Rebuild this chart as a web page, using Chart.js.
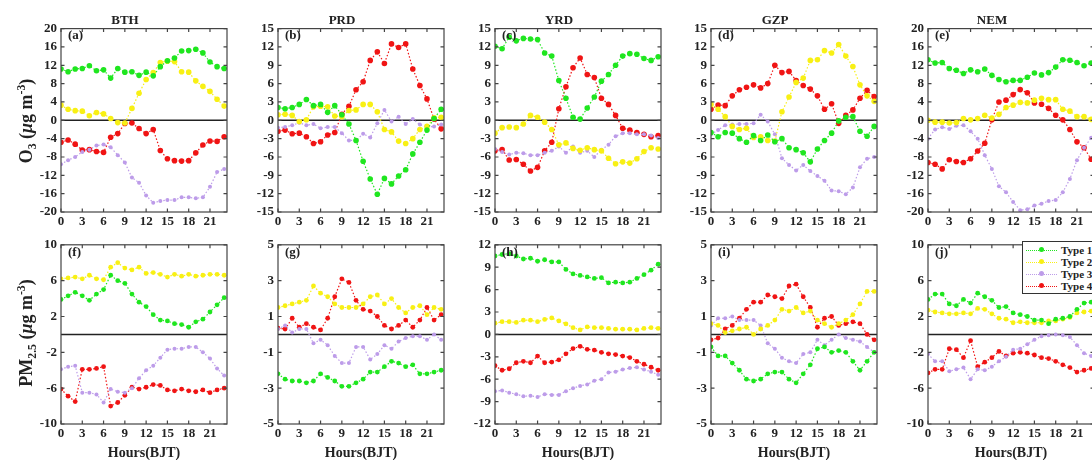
<!DOCTYPE html>
<html>
<head>
<meta charset="utf-8">
<script src="https://cdn.jsdelivr.net/npm/chart.js@4/dist/chart.umd.min.js"></script>
<style>
  html, body { margin: 0; padding: 0; background: #fff; }
  body {
    width: 1092px; height: 460px; overflow: hidden; position: relative;
    font-family: "Liberation Serif", "Times New Roman", serif; font-weight: bold; color: #222;
  }
  canvas { position: absolute; }
  .ylab {
    position: absolute; white-space: nowrap; font-size: 18px;
    transform: translate(-50%, -50%) rotate(-90deg);
  }
  .ylab sub, .ylab sup { font-size: 0.65em; }
  .tag { position: absolute; font-size: 13px; line-height: 15px; z-index: 2; }
  #legend {
    position: absolute; left: 1022px; top: 241px; width: 90px; height: 53px;
    border: 1px solid #333; background: #fff; z-index: 3; padding-top: 2px; box-sizing: border-box;
    font-size: 11px;
  }
  #legend .row { display: flex; align-items: center; height: 12px; }
  #legend .smp { position: relative; width: 31px; margin-left: 3px; border-top: 1.5px dotted; height: 0; }
  #legend .smp i { position: absolute; left: 13px; top: -3.5px; width: 5px; height: 5px; border-radius: 50%; }
  #legend .txt { margin-left: 4px; }
</style>
</head>
<body>
<script>
// ---- data ----
const hours = [0,1,2,3,4,5,6,7,8,9,10,11,12,13,14,15,16,17,18,19,20,21,22,23];
const hourTicks = [0,3,6,9,12,15,18,21];
const typeLabels = ['Type 1','Type 2','Type 3','Type 4'];
const regions = ['BTH','PRD','YRD','GZP','NEM'];
const o3Tags = ['(a)','(b)','(c)','(d)','(e)'];
const pmTags = ['(f)','(g)','(h)','(i)','(j)'];

// O3 anomalies (ug m-3)
const o3_BTH_t1 = [11.2,10.6,11.2,11.3,11.9,10.8,11.0,9.2,11.3,10.5,10.6,9.8,10.5,9.7,11.7,13.0,13.6,15.1,15.2,15.5,14.7,12.7,11.7,11.3];
const o3_BTH_t2 = [3.3,2.4,2.1,2.0,1.0,1.7,1.4,0.4,-0.5,-0.6,2.6,5.9,8.9,10.4,12.6,12.9,12.8,10.6,10.5,8.6,7.4,6.3,4.6,3.1];
const o3_BTH_t3 = [-9.6,-8.7,-8.0,-6.9,-6.4,-5.5,-5.3,-5.9,-7.6,-9.2,-12.5,-13.6,-16.4,-18.0,-17.6,-17.4,-17.4,-16.8,-16.8,-17.0,-16.8,-14.5,-11.3,-10.6];
const o3_BTH_t4 = [-4.8,-4.3,-5.2,-6.5,-6.4,-6.8,-7.0,-3.7,-2.9,-0.7,-0.6,-1.8,-2.9,-2.0,-6.6,-8.4,-8.8,-8.9,-8.8,-7.1,-5.4,-4.5,-4.6,-3.6];

const o3_PRD_t1 = [2.1,1.9,2.1,2.6,3.4,2.4,2.6,1.3,2.4,0.9,-0.6,-3.3,-6.7,-9.6,-12.1,-9.5,-10.4,-9.1,-8.1,-5.5,-3.6,-1.6,0.3,1.8];
const o3_PRD_t2 = [0.9,1.0,0.8,-0.2,0.1,2.2,2.3,2.2,0.7,0.6,1.6,1.7,2.6,2.6,1.4,-1.5,-1.9,-3.4,-3.8,-3.0,-1.5,-1.0,0.4,0.5];
const o3_PRD_t3 = [-1.2,-1.1,-0.8,-0.4,-0.8,-0.6,-1.3,-1.1,-1.1,-2.1,-3.3,-3.3,-2.2,-2.8,-0.5,1.7,-0.2,0.6,-0.6,0.2,-0.7,-1.1,-1.0,-0.7];
const o3_PRD_t4 = [-1.8,-1.6,-2.2,-2.1,-2.7,-3.8,-3.5,-2.4,-2.0,1.0,2.3,5.0,6.3,9.8,11.2,9.3,12.5,11.9,12.5,8.4,5.7,3.5,0.2,-1.4];

const o3_YRD_t1 = [12.1,11.7,13.6,13.0,13.4,13.3,13.2,11.0,10.5,6.5,3.6,0.5,0.2,2.0,3.8,6.4,7.5,9.0,10.5,10.9,10.8,10.1,9.8,10.4];
const o3_YRD_t2 = [-2.1,-1.2,-1.1,-1.2,-0.6,0.8,0.5,-0.3,-1.5,-4.0,-3.7,-4.6,-4.9,-4.5,-4.8,-5.0,-6.2,-7.1,-6.8,-7.0,-6.3,-5.1,-4.5,-4.7];
const o3_YRD_t3 = [-4.7,-5.2,-5.6,-5.3,-5.4,-5.7,-5.7,-5.3,-5.0,-4.3,-5.3,-4.3,-5.3,-5.0,-6.0,-4.8,-4.0,-2.6,-2.1,-2.1,-2.3,-2.3,-2.5,-2.9];
const o3_YRD_t4 = [-5.0,-4.8,-6.5,-6.4,-7.2,-8.3,-7.7,-5.0,-3.6,1.9,5.5,8.6,10.2,7.5,7.0,3.6,2.6,0.8,-1.3,-1.6,-2.0,-2.3,-2.7,-2.5];

const o3_GZP_t1 = [-2.0,-2.7,-2.0,-2.1,-3.0,-3.6,-2.5,-3.3,-2.4,-3.5,-3.0,-4.5,-4.8,-5.3,-6.8,-4.7,-3.3,-2.1,-0.1,0.5,0.6,-1.8,-2.6,-1.0];
const o3_GZP_t2 = [2.6,1.8,0.6,-1.0,-1.5,-1.3,-2.8,-2.7,-3.3,-3.4,1.4,3.8,6.2,6.9,9.8,9.9,11.4,11.0,12.4,10.5,8.8,5.8,4.0,3.1];
const o3_GZP_t3 = [-2.3,-1.6,-0.8,-0.7,-0.6,-0.6,-0.5,0.9,-0.2,-2.3,-6.2,-7.3,-8.2,-7.3,-8.3,-9.1,-9.9,-11.5,-11.6,-12.1,-11.0,-7.7,-6.3,-6.0];
const o3_GZP_t4 = [1.8,2.5,2.4,4.0,5.0,5.4,5.8,5.3,6.0,9.0,7.8,8.0,6.5,5.7,5.1,4.0,1.8,2.7,-0.5,0.8,1.7,3.6,4.9,3.9];

const o3_NEM_t1 = [13.2,12.5,12.6,11.3,10.9,10.2,11.0,10.6,11.2,9.8,8.9,8.4,8.7,8.7,9.4,10.3,9.9,10.4,11.6,13.2,13.1,12.6,11.9,12.5];
const o3_NEM_t2 = [0.0,-0.4,-0.4,-0.6,-0.5,0.4,0.1,0.4,1.1,0.5,1.3,2.8,3.3,3.9,3.8,4.4,4.8,4.5,4.5,2.4,2.0,0.8,0.8,0.2];
const o3_NEM_t3 = [-4.0,-2.0,-1.5,-1.9,-1.2,-1.1,-2.4,-4.0,-7.6,-10.6,-14.4,-15.7,-17.8,-19.6,-19.4,-18.6,-18.2,-17.6,-17.4,-15.7,-12.8,-8.7,-6.0,-3.8];
const o3_NEM_t4 = [-9.2,-9.6,-10.6,-8.6,-9.0,-9.2,-8.4,-6.7,-5.0,0.1,4.0,4.4,5.6,6.7,6.0,3.8,3.5,2.6,1.1,0.1,-2.0,-4.7,-6.0,-8.5];

// PM2.5 anomalies (ug m-3)
const pm_BTH_t1 = [3.9,4.3,4.7,4.3,3.8,4.5,5.0,6.6,6.0,5.7,4.5,3.6,3.1,2.2,1.6,1.5,1.2,1.1,0.8,1.4,1.7,2.5,3.3,4.1];
const pm_BTH_t2 = [6.2,6.3,6.4,6.2,6.6,6.2,6.1,7.5,8.0,7.4,7.2,7.5,6.8,6.9,6.7,6.4,6.7,6.5,6.7,6.5,6.6,6.7,6.7,6.6];
const pm_BTH_t3 = [-3.9,-3.6,-3.5,-6.5,-6.5,-6.7,-7.6,-6.1,-6.4,-6.5,-6.0,-4.9,-4.0,-3.5,-2.6,-1.7,-1.6,-1.6,-1.4,-1.4,-2.0,-2.7,-3.8,-4.6];
const pm_BTH_t4 = [-6.1,-6.9,-7.5,-3.9,-3.9,-3.8,-3.6,-8.0,-7.6,-6.8,-5.9,-6.1,-5.9,-5.6,-5.7,-6.2,-6.3,-6.1,-6.3,-6.4,-6.2,-6.5,-6.2,-6.0];

const pm_PRD_t1 = [-2.2,-2.5,-2.6,-2.6,-2.7,-2.6,-2.2,-2.4,-2.6,-2.9,-2.9,-2.7,-2.5,-2.1,-2.1,-1.8,-1.5,-1.6,-1.8,-1.7,-2.2,-2.2,-2.1,-2.0];
const pm_PRD_t2 = [1.5,1.6,1.7,1.8,1.9,2.7,2.3,2.1,1.7,1.5,1.5,1.5,1.7,2.1,2.2,1.7,2.0,1.5,1.2,1.5,1.6,1.1,1.5,1.4];
const pm_PRD_t3 = [0.3,0.5,0.1,0.3,0.3,-0.5,-0.3,-0.6,-1.2,-1.6,-1.6,-0.7,-0.7,-1.4,-1.1,-0.6,-0.8,-0.4,-0.2,-0.1,-0.1,-0.3,0.0,-0.3];
const pm_PRD_t4 = [0.35,0.3,0.9,0.4,0.6,0.4,0.25,0.9,2.1,3.1,2.9,1.9,1.4,1.3,1.0,0.5,0.3,0.5,0.8,0.4,0.8,1.5,0.8,1.1];

const pm_YRD_t1 = [10.5,10.7,10.8,10.5,10.1,10.2,9.8,10.0,9.7,9.7,8.7,8.1,7.9,7.7,7.5,7.6,6.9,7.0,6.9,7.0,7.5,8.0,8.6,9.4];
const pm_YRD_t2 = [1.5,1.7,1.7,1.6,1.9,1.9,1.7,2.0,2.2,1.8,1.4,0.9,0.6,1.0,0.9,0.9,0.8,0.7,0.7,0.7,0.6,0.8,0.9,0.8];
const pm_YRD_t3 = [-7.6,-7.5,-7.8,-8.0,-8.3,-8.2,-8.4,-8.0,-8.1,-8.1,-7.6,-7.2,-6.9,-6.7,-6.2,-6.0,-5.1,-5.0,-4.7,-4.5,-4.4,-4.7,-5.0,-5.4];
const pm_YRD_t4 = [-4.2,-4.8,-4.6,-3.8,-3.6,-3.8,-2.9,-3.8,-3.7,-3.4,-2.6,-1.9,-1.6,-2.0,-2.1,-2.4,-2.6,-2.7,-2.9,-3.1,-3.6,-4.0,-4.4,-4.8];

const pm_GZP_t1 = [-0.7,-1.2,-1.2,-1.6,-2.0,-2.5,-2.6,-2.5,-2.2,-2.1,-2.1,-2.5,-2.7,-2.2,-1.7,-0.8,-0.7,-1.0,-0.9,-1.0,-1.5,-2.0,-1.5,-1.0];
const pm_GZP_t2 = [0.6,0.5,0.1,0.2,0.3,0.4,0.0,0.3,0.5,0.8,1.4,1.3,1.5,1.2,1.3,0.8,0.6,0.4,0.6,0.8,1.1,1.7,2.4,2.4];
const pm_GZP_t3 = [0.5,0.9,0.9,1.0,0.8,0.8,0.8,0.5,-0.5,-0.8,-1.3,-1.5,-1.6,-1.1,-1.0,-0.3,-0.6,-0.3,0.0,-0.2,-0.3,-0.4,-0.7,-1.0];
const pm_GZP_t4 = [-0.3,-0.2,0.3,0.5,0.9,1.4,1.8,1.8,2.2,2.1,2.0,2.7,2.8,2.1,1.5,0.4,0.9,1.0,0.5,0.6,0.7,0.6,0.0,-0.3];

const pm_NEM_t1 = [3.9,4.5,4.5,3.4,3.2,3.9,3.5,4.6,4.2,3.8,3.0,3.1,2.4,2.2,2.0,1.6,1.6,1.2,1.7,1.8,2.0,2.8,3.5,3.6];
const pm_NEM_t2 = [2.7,2.5,2.4,2.3,2.3,2.4,2.3,2.9,2.8,2.3,1.8,1.7,1.3,1.4,1.3,1.3,1.3,1.5,1.5,1.7,1.9,2.4,2.5,2.6];
const pm_NEM_t3 = [-2.2,-3.0,-3.0,-4.1,-3.9,-3.7,-5.0,-3.9,-4.0,-3.6,-3.0,-2.5,-1.7,-1.6,-1.1,-0.6,-0.2,-0.1,0.0,-0.1,-0.3,-1.2,-2.1,-2.4];
const pm_NEM_t4 = [-4.3,-3.9,-3.9,-1.6,-1.7,-2.6,-0.7,-3.6,-3.1,-2.6,-1.9,-2.4,-2.1,-2.0,-2.1,-2.3,-2.6,-2.7,-3.0,-3.4,-3.7,-4.2,-4.0,-3.8];

// y tick labels
const ticks20 = [-20,-16,-12,-8,-4,0,4,8,12,16,20];
const ticks15 = [-15,-12,-9,-6,-3,0,3,6,9,12,15];
const ticksPm10 = [-10,-6,-2,2,6,10];
const ticksPm5 = [-5,-3,-1,1,3,5];
const ticksPm12 = [-12,-9,-6,-3,0,3,6,9,12];

// ---- style ----
const FONT = '"Liberation Serif", "Times New Roman", serif';
const COLORS = ['#1fe61f', '#f8f014', '#bd9ce9', '#f01414'];
const LEFTS = [61, 278, 495, 711, 928];
const PLOT_W = 166, PLOT_H = 183, ROW_TOP = [29, 241];
const Y_AXIS_W = 38, RIGHT_PAD = 6;

const o3Series = [
  [o3_BTH_t1, o3_BTH_t2, o3_BTH_t3, o3_BTH_t4],
  [o3_PRD_t1, o3_PRD_t2, o3_PRD_t3, o3_PRD_t4],
  [o3_YRD_t1, o3_YRD_t2, o3_YRD_t3, o3_YRD_t4],
  [o3_GZP_t1, o3_GZP_t2, o3_GZP_t3, o3_GZP_t4],
  [o3_NEM_t1, o3_NEM_t2, o3_NEM_t3, o3_NEM_t4]
];
const pmSeries = [
  [pm_BTH_t1, pm_BTH_t2, pm_BTH_t3, pm_BTH_t4],
  [pm_PRD_t1, pm_PRD_t2, pm_PRD_t3, pm_PRD_t4],
  [pm_YRD_t1, pm_YRD_t2, pm_YRD_t3, pm_YRD_t4],
  [pm_GZP_t1, pm_GZP_t2, pm_GZP_t3, pm_GZP_t4],
  [pm_NEM_t1, pm_NEM_t2, pm_NEM_t3, pm_NEM_t4]
];
const o3Ticks = [ticks20, ticks15, ticks15, ticks15, ticks20];
const pmTicks = [ticksPm10, ticksPm5, ticksPm12, ticksPm5, ticksPm10];

// box, inward ticks on all four sides, zero line
const frame = {
  id: 'frame',
  beforeDatasetsDraw(chart) {
    const { ctx, chartArea: ca, scales: { y } } = chart;
    const y0 = y.getPixelForValue(0);
    ctx.save();
    ctx.strokeStyle = '#222';
    ctx.lineWidth = 1.5;
    ctx.beginPath();
    ctx.moveTo(ca.left, y0);
    ctx.lineTo(ca.right, y0);
    ctx.stroke();
    ctx.restore();
  },
  afterDatasetsDraw(chart) {
    const { ctx, chartArea: ca, scales: { x, y } } = chart;
    const tl = 3.5;
    ctx.save();
    ctx.strokeStyle = '#444';
    ctx.lineWidth = 1.2;
    ctx.strokeRect(ca.left, ca.top, ca.right - ca.left, ca.bottom - ca.top);
    ctx.beginPath();
    x.ticks.forEach(t => {
      const px = x.getPixelForValue(t.value);
      ctx.moveTo(px, ca.bottom); ctx.lineTo(px, ca.bottom - tl);
      ctx.moveTo(px, ca.top); ctx.lineTo(px, ca.top + tl);
    });
    y.ticks.forEach(t => {
      const py = y.getPixelForValue(t.value);
      ctx.moveTo(ca.left, py); ctx.lineTo(ca.left + tl, py);
      ctx.moveTo(ca.right, py); ctx.lineTo(ca.right - tl, py);
    });
    ctx.stroke();
    ctx.restore();
  }
};

function addPanel(series, tickVals, col, row, title, tag) {
  const T = ROW_TOP[row];
  const L = LEFTS[col];
  const topPad = row === 0 ? 21 : 8;
  const axisH = row === 0 ? 20 : 38;

  const cv = document.createElement('canvas');
  cv.width = Y_AXIS_W + PLOT_W + RIGHT_PAD;
  cv.height = topPad + PLOT_H + axisH;
  cv.style.left = (L - Y_AXIS_W) + 'px';
  cv.style.top = (T - topPad) + 'px';
  document.body.appendChild(cv);

  const big = row === 0 ? 2.8 : 2.4;
  new Chart(cv, {
    type: 'line',
    data: {
      datasets: series.map((vals, k) => ({
        label: typeLabels[k],
        data: hours.map((h, i) => ({ x: h, y: vals[i] })),
        borderColor: COLORS[k],
        backgroundColor: COLORS[k],
        pointBackgroundColor: COLORS[k],
        pointBorderWidth: 0,
        pointRadius: k === 2 ? 2.0 : big,
        borderWidth: 1.2,
        borderDash: [1.5, 2],
        tension: 0,
        fill: false
      }))
    },
    options: {
      responsive: false,
      animation: false,
      events: [],
      layout: { padding: { top: row === 0 ? 0 : topPad, right: RIGHT_PAD, left: 0, bottom: 0 } },
      plugins: {
        legend: { display: false },
        tooltip: { enabled: false },
        title: {
          display: row === 0,
          text: title,
          color: '#222',
          font: { family: FONT, size: 13, weight: 'bold' },
          padding: { top: 5, bottom: 0 }
        }
      },
      scales: {
        x: {
          type: 'linear', min: 0, max: 23.4,
          grid: { display: false, drawTicks: false }, border: { display: false },
          afterFit: s => { s.height = axisH; },
          afterBuildTicks: s => { s.ticks = hourTicks.map(v => ({ value: v })); },
          ticks: { color: '#222', font: { family: FONT, size: 13, weight: 'bold' }, padding: 2, maxRotation: 0, autoSkip: false },
          title: {
            display: row === 1, text: 'Hours(BJT)', color: '#222', padding: 0,
            font: { family: FONT, size: 14, weight: 'bold' }
          }
        },
        y: {
          min: tickVals[0], max: tickVals[tickVals.length - 1],
          grid: { display: false, drawTicks: false }, border: { display: false },
          afterFit: s => { s.width = Y_AXIS_W; },
          afterBuildTicks: s => { s.ticks = tickVals.map(v => ({ value: v })); },
          ticks: { color: '#222', font: { family: FONT, size: 13, weight: 'bold' }, padding: 4, autoSkip: false }
        }
      }
    },
    plugins: [frame]
  });

  const tg = document.createElement('div');
  tg.className = 'tag';
  tg.textContent = tag;
  tg.style.left = (L + 7) + 'px';
  tg.style.top = (T + (row === 0 ? -2 : 3)) + 'px';
  document.body.appendChild(tg);
}

regions.forEach((r, c) => addPanel(o3Series[c], o3Ticks[c], c, 0, r, o3Tags[c]));
regions.forEach((r, c) => addPanel(pmSeries[c], pmTicks[c], c, 1, r, pmTags[c]));

// y-axis titles
function addYLabel(html, row) {
  const d = document.createElement('div');
  d.className = 'ylab';
  d.innerHTML = html;
  d.style.left = '27px';
  d.style.top = (ROW_TOP[row] + PLOT_H / 2) + 'px';
  document.body.appendChild(d);
}
addYLabel('O<sub>3</sub> (<i>&mu;</i>g m<sup>-3</sup>)', 0);
addYLabel('PM<sub>2.5</sub> (<i>&mu;</i>g m<sup>-3</sup>)', 1);

// legend inside panel (j)
const lg = document.createElement('div');
lg.id = 'legend';
typeLabels.forEach((t, k) => {
  const row = document.createElement('div');
  row.className = 'row';
  row.innerHTML = '<span class="smp" style="border-color:' + COLORS[k] + '"><i style="background:' + COLORS[k] + '"></i></span><span class="txt">' + t + '</span>';
  lg.appendChild(row);
});
document.body.appendChild(lg);
</script>
</body>
</html>
